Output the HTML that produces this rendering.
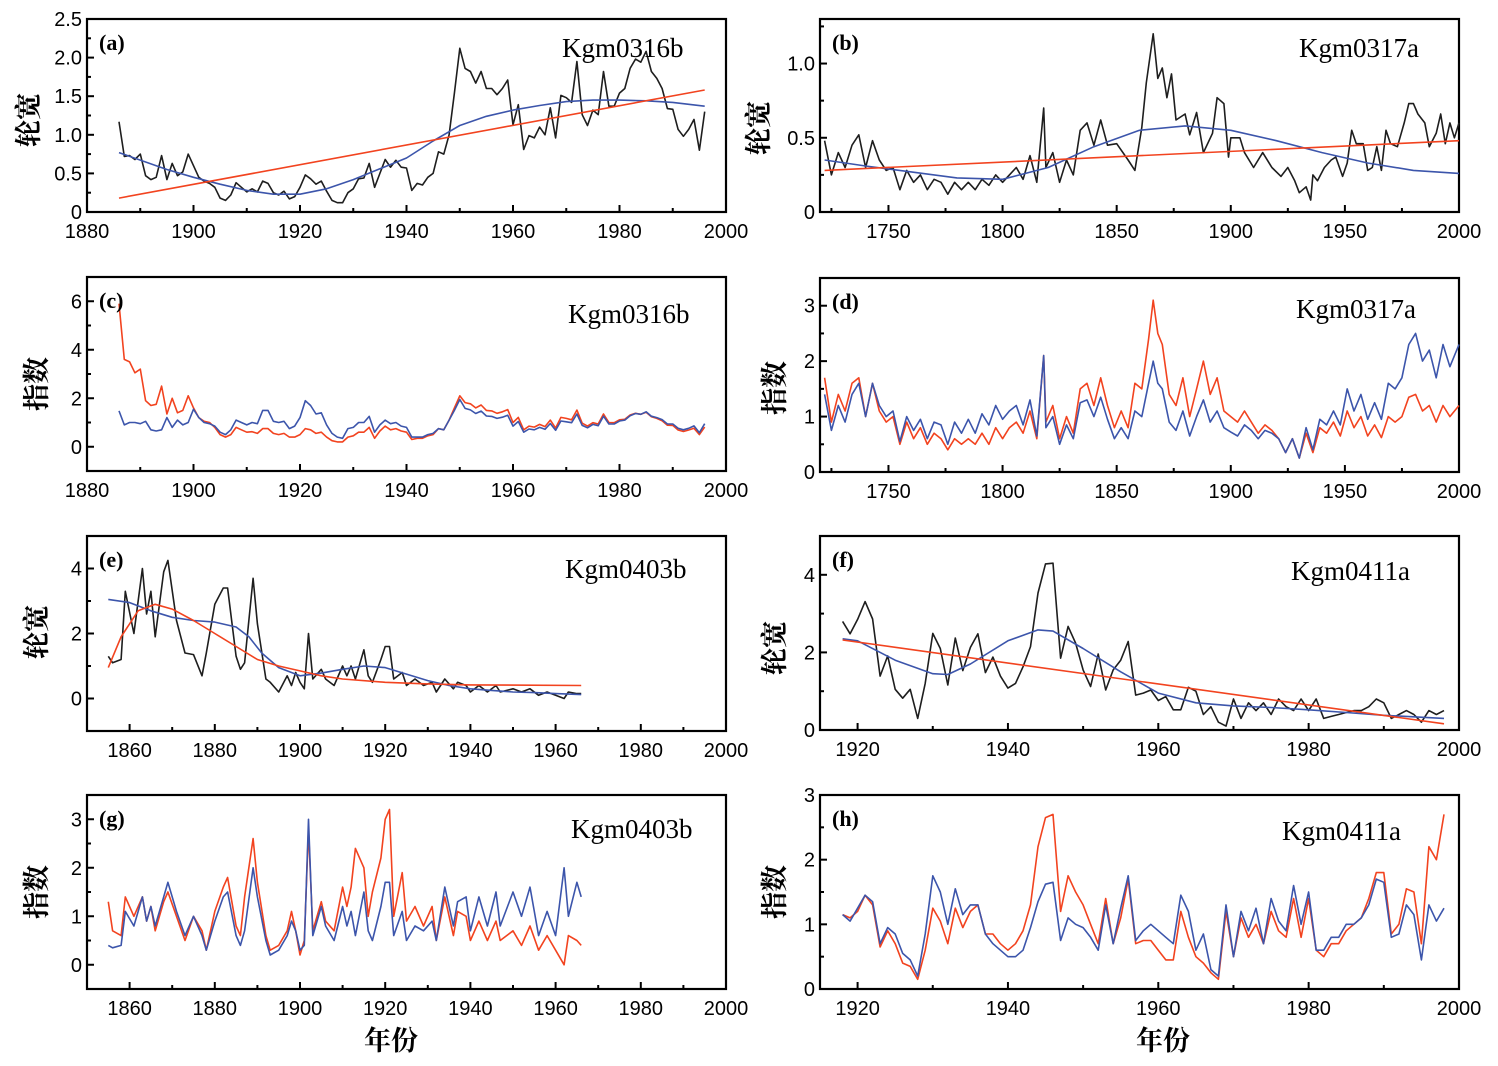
<!DOCTYPE html>
<html><head><meta charset="utf-8">
<style>
html,body{margin:0;padding:0;background:#fff;}
svg{display:block;}
.tick{font-family:"Liberation Sans",Arial,sans-serif;font-size:20px;fill:#000;}
.plab{font-family:"Liberation Serif",serif;font-size:22px;font-weight:bold;fill:#000;}
.ttl{font-family:"Liberation Serif",serif;font-size:27px;fill:#000;}
.ytl{font-family:"Liberation Serif","Noto Serif CJK SC",serif;font-size:27px;font-weight:bold;fill:#000;}
</style></head>
<body>
<svg id="chart" width="1498" height="1066" viewBox="0 0 1498 1066" xmlns="http://www.w3.org/2000/svg"></svg>
<script>
// ---------- data (a) Kgm0316b ring width ----------
const aYears=[1886,1887,1888,1889,1890,1891,1892,1893,1894,1895,1896,1897,1898,1899,1900,1901,1902,1903,1904,1905,1906,1907,1908,1909,1910,1911,1912,1913,1914,1915,1916,1917,1918,1919,1920,1921,1922,1923,1924,1925,1926,1927,1928,1929,1930,1931,1932,1933,1934,1935,1936,1937,1938,1939,1940,1941,1942,1943,1944,1945,1946,1947,1948,1949,1950,1951,1952,1953,1954,1955,1956,1957,1958,1959,1960,1961,1962,1963,1964,1965,1966,1967,1968,1969,1970,1971,1972,1973,1974,1975,1976,1977,1978,1979,1980,1981,1982,1983,1984,1985,1986,1987,1988,1989,1990,1991,1992,1993,1994,1995,1996];
const aBlack=[1.17,0.72,0.73,0.68,0.75,0.47,0.42,0.45,0.73,0.42,0.63,0.47,0.52,0.75,0.6,0.45,0.4,0.37,0.32,0.18,0.15,0.22,0.38,0.32,0.26,0.3,0.26,0.4,0.37,0.25,0.22,0.27,0.17,0.2,0.32,0.48,0.43,0.36,0.4,0.27,0.15,0.12,0.12,0.25,0.3,0.43,0.44,0.63,0.32,0.5,0.68,0.58,0.67,0.58,0.57,0.28,0.37,0.35,0.45,0.5,0.78,0.75,1.0,1.54,2.12,1.86,1.82,1.67,1.82,1.6,1.6,1.52,1.6,1.71,1.13,1.39,0.81,0.99,0.96,1.1,1.0,1.35,0.96,1.51,1.48,1.42,1.95,1.26,1.12,1.32,1.26,1.82,1.37,1.37,1.54,1.6,1.86,1.98,1.94,2.08,1.82,1.73,1.6,1.34,1.33,1.07,0.98,1.07,1.2,0.8,1.3];
const aBlueYears=[1886,1895,1900,1905,1910,1915,1920,1925,1930,1935,1940,1945,1950,1955,1960,1965,1970,1975,1980,1985,1990,1996];
const aBlue=[0.77,0.55,0.45,0.36,0.28,0.23,0.23,0.3,0.42,0.56,0.7,0.92,1.12,1.24,1.32,1.38,1.43,1.45,1.45,1.44,1.42,1.37];
const aRedYears=[1886,1996];
const aRed=[0.18,1.58];
// ---------- (c) Kgm0316b index ----------
const cRed=[5.9,3.6,3.5,3.05,3.2,1.9,1.7,1.75,2.5,1.35,2.0,1.4,1.5,2.1,1.6,1.2,1.05,1.0,0.8,0.5,0.4,0.5,0.8,0.7,0.6,0.62,0.55,0.75,0.75,0.55,0.5,0.55,0.4,0.4,0.5,0.75,0.7,0.55,0.6,0.4,0.25,0.2,0.2,0.4,0.45,0.6,0.6,0.8,0.35,0.65,0.85,0.7,0.75,0.65,0.6,0.3,0.35,0.35,0.45,0.5,0.75,0.7,1.1,1.6,2.1,1.82,1.77,1.6,1.72,1.5,1.48,1.38,1.44,1.53,1.0,1.21,0.7,0.85,0.81,0.92,0.83,1.1,0.77,1.21,1.17,1.11,1.51,0.97,0.85,0.99,0.94,1.35,1.0,0.99,1.11,1.13,1.31,1.38,1.34,1.42,1.24,1.17,1.07,0.89,0.88,0.69,0.63,0.69,0.76,0.5,0.81];
const cBlue=[1.48,0.9,1.0,1.0,0.95,1.05,0.7,0.65,0.7,1.2,0.8,1.1,0.9,1.0,1.55,1.2,1.0,0.95,0.85,0.6,0.5,0.7,1.1,1.0,0.9,1.0,0.95,1.5,1.5,1.05,1.0,1.05,0.75,0.85,1.2,1.9,1.7,1.35,1.4,0.9,0.55,0.4,0.35,0.75,0.8,1.0,1.0,1.25,0.6,0.9,1.1,0.95,1.0,0.85,0.8,0.4,0.4,0.4,0.5,0.55,0.75,0.7,1.1,1.5,1.95,1.58,1.52,1.37,1.47,1.27,1.25,1.17,1.22,1.3,0.85,1.04,0.6,0.73,0.7,0.8,0.72,0.96,0.68,1.06,1.03,0.99,1.35,0.88,0.78,0.92,0.87,1.26,0.94,0.94,1.06,1.1,1.28,1.37,1.34,1.44,1.26,1.2,1.12,0.94,0.94,0.76,0.7,0.76,0.86,0.58,0.95];
// ---------- (b) Kgm0317a ring width ----------
const bYears=[1722,1725,1728,1731,1734,1737,1740,1743,1746,1749,1752,1755,1758,1761,1764,1767,1770,1773,1776,1779,1782,1785,1788,1791,1794,1797,1800,1803,1806,1809,1812,1815,1818,1819,1822,1825,1828,1831,1834,1837,1840,1843,1846,1850,1855,1858,1861,1863,1866,1868,1870,1872,1874,1876,1880,1882,1885,1888,1892,1894,1897,1899,1900,1904,1906,1910,1914,1918,1922,1925,1928,1930,1933,1935,1936,1938,1941,1944,1946,1949,1951,1953,1955,1958,1960,1962,1964,1966,1968,1970,1973,1976,1978,1980,1982,1985,1987,1990,1992,1994,1996,1998,2000];
const bBlack=[0.48,0.25,0.4,0.3,0.45,0.52,0.3,0.48,0.35,0.28,0.3,0.15,0.28,0.2,0.25,0.15,0.22,0.2,0.12,0.2,0.15,0.2,0.15,0.22,0.18,0.25,0.2,0.25,0.3,0.22,0.38,0.2,0.7,0.3,0.4,0.2,0.35,0.25,0.55,0.6,0.45,0.62,0.45,0.46,0.35,0.28,0.57,0.87,1.2,0.9,0.97,0.77,0.93,0.62,0.66,0.52,0.67,0.4,0.53,0.77,0.73,0.37,0.5,0.5,0.4,0.3,0.4,0.3,0.24,0.3,0.21,0.13,0.17,0.08,0.25,0.21,0.3,0.35,0.37,0.24,0.33,0.55,0.46,0.46,0.28,0.3,0.44,0.28,0.55,0.46,0.44,0.6,0.73,0.73,0.66,0.6,0.44,0.53,0.66,0.46,0.6,0.5,0.6];
const bBlueYears=[1722,1740,1760,1780,1800,1820,1840,1860,1880,1900,1920,1940,1960,1980,2000];
const bBlue=[0.35,0.31,0.27,0.23,0.22,0.3,0.44,0.55,0.58,0.55,0.48,0.4,0.33,0.28,0.26];
const bRedYears=[1722,2000];
const bRed=[0.28,0.48];
// ---------- (d) Kgm0317a index ----------
const dYears=[1722,1725,1728,1731,1734,1737,1740,1743,1746,1749,1752,1755,1758,1761,1764,1767,1770,1773,1776,1779,1782,1785,1788,1791,1794,1797,1800,1803,1806,1809,1812,1815,1818,1819,1822,1825,1828,1831,1834,1837,1840,1843,1846,1849,1852,1855,1858,1861,1864,1866,1868,1870,1873,1876,1879,1882,1885,1888,1891,1894,1897,1900,1903,1906,1909,1912,1915,1918,1921,1924,1927,1930,1933,1936,1939,1942,1945,1948,1951,1954,1957,1960,1963,1966,1969,1972,1975,1978,1981,1984,1987,1990,1993,1996,2000];
const dRed=[1.7,0.9,1.4,1.1,1.6,1.7,1.0,1.6,1.1,0.9,1.0,0.5,0.9,0.6,0.8,0.5,0.7,0.6,0.4,0.6,0.5,0.6,0.5,0.7,0.5,0.8,0.6,0.8,0.9,0.7,1.1,0.6,2.1,0.9,1.2,0.6,1.0,0.7,1.5,1.6,1.2,1.7,1.2,0.8,1.1,0.8,1.6,1.5,2.4,3.1,2.5,2.3,1.4,1.2,1.7,1.0,1.5,2.0,1.4,1.7,1.1,1.0,0.9,1.1,0.9,0.7,0.85,0.75,0.6,0.35,0.6,0.25,0.7,0.35,0.8,0.7,0.9,0.65,1.1,0.8,1.0,0.65,0.85,0.62,1.0,0.9,1.0,1.35,1.4,1.1,1.2,0.9,1.2,1.0,1.2];
const dBlue=[1.4,0.75,1.2,0.9,1.4,1.6,1.0,1.6,1.2,1.0,1.1,0.55,1.0,0.75,0.95,0.6,0.9,0.85,0.5,0.9,0.7,0.95,0.7,1.05,0.85,1.2,0.95,1.1,1.2,0.85,1.3,0.65,2.1,0.8,1.0,0.5,0.85,0.6,1.25,1.3,1.0,1.35,0.95,0.6,0.8,0.6,1.1,1.0,1.6,2.0,1.6,1.5,0.9,0.75,1.1,0.65,1.0,1.3,0.9,1.1,0.8,0.72,0.65,0.85,0.75,0.6,0.75,0.7,0.6,0.35,0.6,0.25,0.8,0.4,0.95,0.85,1.1,0.85,1.5,1.1,1.4,0.95,1.25,0.95,1.6,1.5,1.7,2.3,2.5,2.0,2.2,1.7,2.3,1.9,2.3];
// ---------- (e) Kgm0403b ring width ----------
const eYears=[1855,1856,1858,1859,1861,1863,1864,1865,1866,1868,1869,1871,1873,1875,1877,1878,1880,1882,1883,1885,1886,1887,1889,1890,1892,1893,1895,1897,1898,1899,1900,1901,1902,1903,1905,1906,1908,1910,1911,1912,1913,1915,1916,1917,1919,1920,1921,1922,1924,1925,1927,1929,1931,1932,1934,1936,1937,1939,1940,1942,1944,1946,1947,1950,1952,1954,1956,1958,1960,1962,1963,1965,1966];
const eBlack=[1.3,1.1,1.2,3.3,2.0,4.0,2.6,3.3,1.9,3.9,4.25,2.4,1.4,1.35,0.7,1.4,2.9,3.4,3.4,1.3,0.9,1.1,3.7,2.3,0.6,0.5,0.2,0.7,0.4,0.8,0.5,0.3,2.0,0.6,0.9,0.6,0.4,1.0,0.7,1.0,0.6,1.5,0.7,0.5,1.2,1.6,1.6,0.6,0.8,0.4,0.6,0.4,0.5,0.2,0.6,0.3,0.5,0.4,0.2,0.4,0.2,0.4,0.2,0.3,0.2,0.3,0.1,0.2,0.1,0.0,0.2,0.15,0.15];
const eBlueYears=[1855,1860,1865,1870,1875,1880,1885,1888,1891,1895,1900,1905,1910,1915,1920,1925,1930,1935,1940,1945,1950,1955,1960,1966];
const eBlue=[3.05,2.95,2.7,2.5,2.4,2.35,2.2,1.9,1.4,0.95,0.7,0.78,0.9,1.0,0.95,0.75,0.55,0.4,0.3,0.25,0.2,0.18,0.15,0.12];
const eRedYears=[1855,1858,1862,1866,1870,1875,1880,1885,1890,1895,1900,1905,1910,1920,1930,1940,1966];
const eRed=[0.95,1.9,2.7,2.9,2.75,2.4,2.0,1.6,1.2,1.0,0.85,0.7,0.6,0.5,0.45,0.42,0.4];
// ---------- (g) Kgm0403b index ----------
const gRed=[1.3,0.7,0.6,1.4,1.0,1.4,0.9,1.2,0.7,1.3,1.5,1.0,0.5,1.0,0.7,0.3,1.1,1.6,1.8,0.8,0.6,1.4,2.6,1.7,0.6,0.3,0.4,0.7,1.1,0.7,0.2,0.5,2.8,0.7,1.3,0.9,0.7,1.6,1.2,1.6,2.4,2.0,1.0,1.5,2.2,3.0,3.2,1.0,1.9,0.9,1.2,0.8,1.2,0.5,1.4,0.6,1.1,1.0,0.5,0.9,0.5,0.9,0.5,0.7,0.4,0.8,0.3,0.6,0.3,0.0,0.6,0.5,0.4];
const gBlue=[0.4,0.35,0.4,1.1,0.8,1.4,0.9,1.2,0.8,1.4,1.7,1.1,0.6,1.0,0.6,0.3,0.9,1.4,1.5,0.6,0.4,0.7,2.0,1.4,0.5,0.2,0.3,0.6,0.9,0.7,0.3,0.4,3.0,0.6,1.2,0.8,0.5,1.2,0.8,1.1,0.6,1.5,0.7,0.5,1.2,1.7,1.7,0.6,1.1,0.5,0.8,0.7,0.9,0.5,1.6,0.8,1.3,1.4,0.7,1.4,0.8,1.5,0.8,1.5,1.0,1.6,0.6,1.1,0.6,2.0,1.0,1.7,1.4];
// ---------- (f) Kgm0411a ring width ----------
const fYears=[1918,1919,1920,1921,1922,1923,1924,1925,1926,1927,1928,1929,1930,1931,1932,1933,1934,1935,1936,1937,1938,1939,1940,1941,1942,1943,1944,1945,1946,1947,1948,1949,1950,1951,1952,1953,1954,1955,1956,1957,1958,1959,1960,1961,1962,1963,1964,1965,1966,1967,1968,1969,1970,1971,1972,1973,1974,1975,1976,1977,1978,1979,1980,1981,1982,1983,1984,1985,1986,1987,1988,1989,1990,1991,1992,1993,1994,1995,1996,1997,1998];
const fBlack=[2.8,2.48,2.85,3.31,2.86,1.39,1.91,1.05,0.82,1.05,0.3,1.2,2.49,2.1,1.16,2.37,1.53,2.13,2.48,1.48,1.88,1.39,1.08,1.2,1.63,2.15,3.53,4.28,4.3,1.85,2.67,2.24,1.55,1.12,1.96,1.03,1.55,1.8,2.28,0.9,0.95,1.03,0.76,0.86,0.52,0.52,1.1,1.0,0.4,0.6,0.2,0.1,0.8,0.3,0.7,0.5,0.7,0.4,0.8,0.6,0.5,0.8,0.5,0.8,0.3,0.35,0.4,0.45,0.5,0.5,0.6,0.8,0.7,0.3,0.4,0.5,0.4,0.2,0.5,0.4,0.5];
const fBlueYears=[1918,1920,1925,1930,1932,1935,1940,1944,1946,1950,1955,1960,1965,1970,1975,1980,1985,1990,1998];
const fBlue=[2.35,2.3,1.8,1.45,1.43,1.7,2.3,2.58,2.55,2.1,1.5,0.95,0.7,0.62,0.58,0.52,0.45,0.38,0.3];
const fRedYears=[1918,1998];
const fRed=[2.32,0.16];
// ---------- (h) Kgm0411a index ----------
const hRed=[1.15,1.1,1.2,1.45,1.3,0.65,0.9,0.7,0.4,0.35,0.15,0.6,1.25,1.05,0.7,1.25,0.95,1.2,1.3,0.85,0.85,0.7,0.6,0.7,0.9,1.3,2.2,2.65,2.7,1.2,1.75,1.5,1.3,1.0,0.7,1.4,0.7,1.1,1.7,0.7,0.75,0.75,0.6,0.45,0.45,1.2,0.8,0.5,0.4,0.25,0.15,1.2,0.5,1.1,0.8,1.0,0.7,1.2,0.9,0.8,1.4,0.8,1.4,0.6,0.5,0.7,0.7,0.9,1.0,1.1,1.4,1.8,1.8,0.85,1.0,1.55,1.5,0.7,2.2,2.0,2.7];
const hBlue=[1.15,1.05,1.25,1.45,1.35,0.7,0.95,0.85,0.55,0.45,0.2,0.85,1.75,1.5,1.0,1.55,1.15,1.3,1.3,0.85,0.7,0.6,0.5,0.5,0.6,0.95,1.35,1.62,1.65,0.75,1.1,1.0,0.95,0.8,0.6,1.3,0.7,1.25,1.75,0.75,0.9,1.0,0.9,0.8,0.7,1.45,1.2,0.6,0.85,0.3,0.2,1.3,0.5,1.2,0.9,1.25,0.7,1.4,1.05,0.9,1.6,1.0,1.5,0.6,0.6,0.8,0.8,1.0,1.0,1.1,1.3,1.7,1.65,0.8,0.85,1.3,1.15,0.45,1.3,1.05,1.25];
// tick label arrays
const xTicksA=[1880,1900,1920,1940,1960,1980,2000];
const xTicksB=[1750,1800,1850,1900,1950,2000];
const xTicksE=[1860,1880,1900,1920,1940,1960,1980,2000];
const xTicksF=[1920,1940,1960,1980,2000];
const yTicksA=["0","0.5","1.0","1.5","2.0","2.5"];
const yTicksB=["0","0.5","1.0"];
const yTicksC=["0","2","4","6"];
const yTicksD=["0","1","2","3"];
const yTicksE=["0","2","4"];
const yTicksG=["0","1","2","3"];

const BLACK="#1e1e1e",BLUE="#3c55ab",RED="#f2431f";
const NS="http://www.w3.org/2000/svg";
const svg=document.getElementById('chart');
function mk(tag,attrs,parent){const e=document.createElementNS(NS,tag);for(const k in attrs)e.setAttribute(k,attrs[k]);(parent||svg).appendChild(e);return e;}

function panel(p){
  const g=mk('g',{});
  
  
  const [x0,y0,x1,y1]=p.box;
  const sx=v=>x0+(v-p.xd[0])/(p.xd[1]-p.xd[0])*(x1-x0);
  const sy=v=>y1-(v-p.yd[0])/(p.yd[1]-p.yd[0])*(y1-y0);
  const frame=mk('rect',{x:x0,y:y0,width:x1-x0,height:y1-y0,fill:'none',stroke:'#000','stroke-width':2.2},g);
  
  
  // x ticks
  const xt=p.xt, step=xt[1]-xt[0];
  for(let i=0;i<xt.length;i++){
    const X=sx(xt[i]);
    mk('line',{x1:X,y1:y1,x2:X,y2:y1-7,stroke:'#000','stroke-width':2},g);
    const minor=xt[i]-step/2;
    if(minor>p.xd[0]){const M=sx(minor);mk('line',{x1:M,y1:y1,x2:M,y2:y1-4,stroke:'#000','stroke-width':2},g);}
    const t=mk('text',{x:X,y:y1+26,'text-anchor':'middle',class:'tick'},g);
    t.textContent=xt[i];
    
    
  }
  // y ticks
  const yt=p.yt.map(Number), ys=yt.length>1?yt[1]-yt[0]:1;
  for(let i=0;i<yt.length;i++){
    const Y=sy(yt[i]);
    mk('line',{x1:x0,y1:Y,x2:x0+7,y2:Y,stroke:'#000','stroke-width':2},g);
    const t=mk('text',{x:x0-5,y:Y+7,'text-anchor':'end',class:'tick'},g);
    t.textContent=p.yt[i];
    
    
  }
  for(let v=yt[0]-ys/2;v<p.yd[1];v+=ys){
    if(v<=p.yd[0]||yt.includes(+v.toFixed(4)))continue;
    const Y=sy(v);mk('line',{x1:x0,y1:Y,x2:x0+4,y2:Y,stroke:'#000','stroke-width':2},g);
  }
  // series
  p.series.forEach(s=>{
    let d='';
    for(let i=0;i<s.x.length;i++)d+=(i?'L':'M')+sx(s.x[i]).toFixed(1)+','+sy(s.y[i]).toFixed(1);
    const pa=mk('path',{d:d,fill:'none',stroke:s.c,'stroke-width':1.6,'stroke-linejoin':'round'},g);
    
    
  });
  const pl=mk('text',{x:x0+12,y:y0+31,class:'plab'},g);
  pl.textContent='('+p.id+')';
  
  
  const tt=mk('text',{x:p.tp[0],y:p.tp[1],class:'ttl'},g);
  tt.textContent=p.title;
  
  
  const yl=mk('text',{x:p.yl[0],y:p.yl[1],class:'ytl','text-anchor':'middle',transform:'rotate(-90 '+p.yl[0]+' '+p.yl[1]+')'},g);
  yl.textContent=p.ylab;
  
  
}
function smooth(xs,ys){return {x:xs,y:ys};}
const L=[87,726], R=[820,1459];
panel({id:'a',box:[L[0],19,L[1],212],xd:[1880,2000],yd:[0,2.5],xt:xTicksA,yt:yTicksA,title:'Kgm0316b',tp:[562,57],ylab:'轮宽',yl:[38,120],
  series:[{x:aYears,y:aBlack,c:BLACK,n:'ring-width-line'},{x:aBlueYears,y:aBlue,c:BLUE,n:'polynomial-fit-line'},{x:aRedYears,y:aRed,c:RED,n:'linear-fit-line'}]});
panel({id:'b',box:[R[0],19,R[1],212],xd:[1720,2000],yd:[0,1.3],xt:xTicksB,yt:yTicksB,title:'Kgm0317a',tp:[1299,57],ylab:'轮宽',yl:[768,128],
  series:[{x:bYears,y:bBlack,c:BLACK,n:'ring-width-line'},{x:bBlueYears,y:bBlue,c:BLUE,n:'polynomial-fit-line'},{x:bRedYears,y:bRed,c:RED,n:'linear-fit-line'}]});
panel({id:'c',box:[L[0],277,L[1],471],xd:[1880,2000],yd:[-1,7],xt:xTicksA,yt:yTicksC,title:'Kgm0316b',tp:[568,323],ylab:'指数',yl:[46,384],
  series:[{x:aYears,y:cRed,c:RED,n:'linear-index-line'},{x:aYears,y:cBlue,c:BLUE,n:'polynomial-index-line'}]});
panel({id:'d',box:[R[0],278,R[1],472],xd:[1720,2000],yd:[0,3.5],xt:xTicksB,yt:yTicksD,title:'Kgm0317a',tp:[1296,318],ylab:'指数',yl:[784,388],
  series:[{x:dYears,y:dRed,c:RED,n:'linear-index-line'},{x:dYears,y:dBlue,c:BLUE,n:'polynomial-index-line'}]});
panel({id:'e',box:[L[0],536,L[1],731],xd:[1850,2000],yd:[-1,5],xt:xTicksE,yt:yTicksE,title:'Kgm0403b',tp:[565,578],ylab:'轮宽',yl:[46,632],
  series:[{x:eYears,y:eBlack,c:BLACK,n:'ring-width-line'},{x:eBlueYears,y:eBlue,c:BLUE,n:'polynomial-fit-line'},{x:eRedYears,y:eRed,c:RED,n:'negative-exponential-fit-line'}]});
panel({id:'f',box:[R[0],536,R[1],730],xd:[1915,2000],yd:[0,5],xt:xTicksF,yt:yTicksE,title:'Kgm0411a',tp:[1291,580],ylab:'轮宽',yl:[784,648],
  series:[{x:fYears,y:fBlack,c:BLACK,n:'ring-width-line'},{x:fBlueYears,y:fBlue,c:BLUE,n:'polynomial-fit-line'},{x:fRedYears,y:fRed,c:RED,n:'linear-fit-line'}]});
panel({id:'g',box:[L[0],795,L[1],989],xd:[1850,2000],yd:[-0.5,3.5],xt:xTicksE,yt:yTicksG,title:'Kgm0403b',tp:[571,838],ylab:'指数',yl:[46,892],
  series:[{x:eYears,y:gRed,c:RED,n:'exponential-index-line'},{x:eYears,y:gBlue,c:BLUE,n:'polynomial-index-line'}]});
panel({id:'h',box:[R[0],795,R[1],989],xd:[1915,2000],yd:[0,3],xt:xTicksF,yt:yTicksG,title:'Kgm0411a',tp:[1282,840],ylab:'指数',yl:[784,892],
  series:[{x:fYears,y:hRed,c:RED,n:'linear-index-line'},{x:fYears,y:hBlue,c:BLUE,n:'polynomial-index-line'}]});
[[391,'x-axis-title-left'],[1163,'x-axis-title-right']].forEach(a=>{
  const t=mk('text',{x:a[0],y:1050,class:'ytl','text-anchor':'middle'});
  t.textContent='年份';
  
  
});
</script>
</body></html>
